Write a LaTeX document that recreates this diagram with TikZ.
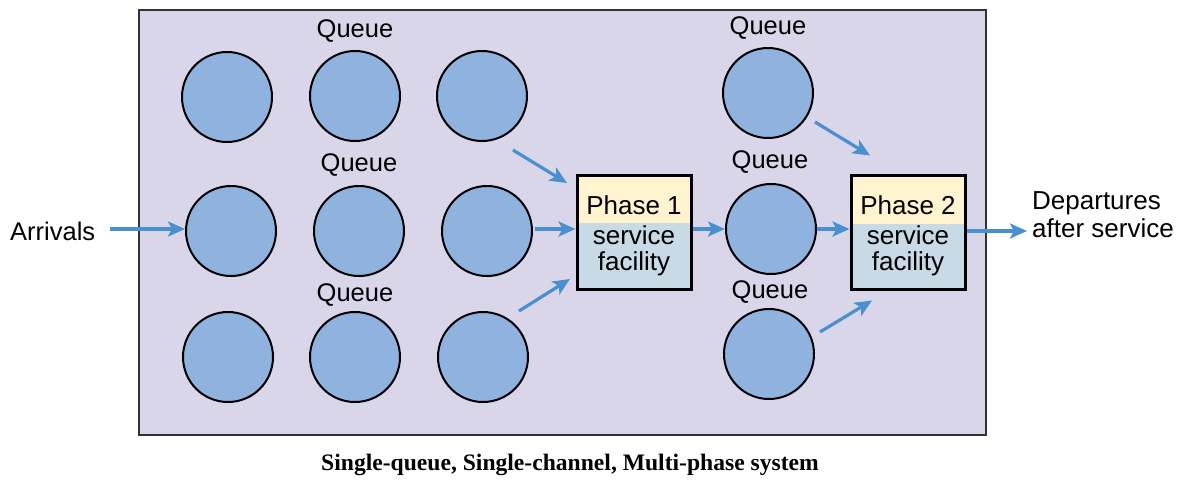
\documentclass[tikz,border=0pt]{standalone}
\usepackage{fontspec}
\setmainfont{Liberation Sans}
\newfontfamily\capfont{Liberation Serif}
\usetikzlibrary{arrows.meta}
\definecolor{bgc}{RGB}{218,214,234}
\definecolor{circc}{RGB}{143,178,223}
\definecolor{arrc}{RGB}{74,144,208}
\definecolor{topc}{RGB}{255,243,208}
\definecolor{lowc}{RGB}{200,218,230}
\tikzset{
  q/.style={circle, draw=black, line width=2pt, fill=circc, minimum size=90pt, inner sep=0pt},
  lbl/.style={font=\fontsize{25.5}{28}\selectfont, inner sep=0pt},
  arr/.style={draw=arrc, line width=3.2pt, -{Stealth[length=17pt,width=15pt,inset=4pt]}},
  phase/.style={draw=black, line width=3pt, fill=lowc, minimum width=114pt, minimum height=114pt, inner sep=0pt,
     path picture={\fill[topc] (path picture bounding box.north west) rectangle ([yshift=-48pt]path picture bounding box.north east);}},
  ptxt/.style={font=\fontsize{26}{26}\selectfont, inner sep=0pt, align=center}
}
\begin{document}
\begin{tikzpicture}[x=1pt,y=-1pt]
\useasboundingbox (0,0) rectangle (1184,480);
\node[draw=black!80, line width=1.6pt, fill=bgc, minimum width=847pt, minimum height=425pt, inner sep=0pt, anchor=north west] (frame) at (138,9) {};
% circles
\node[q] (c11) at (227,97) {};
\node[q] (c12) at (355,96) {};
\node[q] (c13) at (482,96) {};
\node[q] (c21) at (231,231) {};
\node[q] (c22) at (359,231) {};
\node[q] (c23) at (487,231) {};
\node[q] (c31) at (228,357) {};
\node[q] (c32) at (355,357) {};
\node[q] (c33) at (483,357) {};
\node[q] (c14) at (768,93) {};
\node[q] (c24) at (771,229) {};
\node[q] (c34) at (769,354) {};
% queue labels
\node[lbl] (q1) at (355,31) {Queue};
\node[lbl] (q2) at (359,165) {Queue};
\node[lbl] (q3) at (355,295) {Queue};
\node[lbl] (q4) at (768,28) {Queue};
\node[lbl] (q5) at (770,162) {Queue};
\node[lbl] (q6) at (770,292) {Queue};
% phase boxes
\node[phase] (p1) at (634,232) {};
\node[ptxt] (p1a) at (634,205) {Phase 1};
\node[ptxt] (p1b) at (634,251) {service\\facility};
\node[phase] (p2) at (908,232.5) {};
\node[ptxt] (p2a) at (908,205) {Phase 2};
\node[ptxt] (p2b) at (908,251) {service\\facility};
% texts
\node[lbl, anchor=west] (arr) at (10,231) {Arrivals};
\node[lbl, anchor=west, align=left, font=\fontsize{26}{28}\selectfont] (dep) at (1032,215) {Departures\\after service};
\node[inner sep=0pt, font=\capfont\bfseries\fontsize{23.6}{26}\selectfont] (cap) at (570,465) {Single-queue, Single-channel, Multi-phase system};
% arrows
\draw[arr] ([shift={(15,-2)}]arr.east) -- ([shift={(0,-2)}]c21.west);
\draw[arr] ([shift={(31,54)}]c13.center) -- ([shift={(-67,-49)}]p1.center);
\draw[arr] ([shift={(48,-2)}]c23.center) -- ([shift={(0,-3)}]p1.west);
\draw[arr] ([shift={(36,-46)}]c33.center) -- ([shift={(-64,47)}]p1.center);
\draw[arr] ([shift={(0,-3)}]p1.east) -- (c24.west);
\draw[arr] ([shift={(47,29)}]c14.center) -- ([shift={(-38,-77)}]p2.center);
\draw[arr] (c24.east) -- ([shift={(0,-3.5)}]p2.west);
\draw[arr] ([shift={(51,-22)}]c34.center) -- ([shift={(-36,68)}]p2.center);
\draw[arr] ([shift={(0,-1.5)}]p2.east) -- ([shift={(-5,-1.5)}]dep.west |- p2.east);
\end{tikzpicture}
\end{document}
